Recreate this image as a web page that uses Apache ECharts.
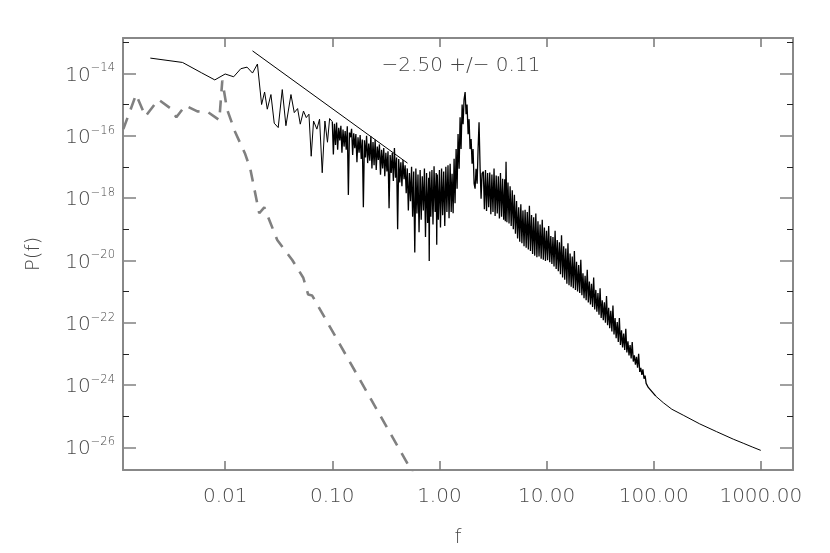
<!DOCTYPE html>
<html><head><meta charset="utf-8">
<script src="https://cdn.jsdelivr.net/npm/echarts@6/dist/echarts.min.js"></script>
<style>html,body{margin:0;padding:0;background:#fff}#c{width:830px;height:553px}</style>
</head><body><div id="c"></div>
<script>
// All values are log10 of the plotted quantities (both axes are logarithmic).
// x: log10(f), y: log10(P(f))
const xTickExp = [-2, -1, 0, 1, 2, 3];
const xTickLabels = ['0.01', '0.10', '1.00', '10.00', '100.00', '1000.00'];
const yMajorExp = [-26, -24, -22, -20, -18, -16, -14];
const yMinorExp = [-25, -23, -21, -19, -17, -15, -13];
const X_MIN = -2.954, X_MAX = 3.301;
const Y_MIN = -26.73, Y_MAX = -12.865;

// black spectrum, lowest frequencies
const spectrumLow = [[-2.699,-13.51],[-2.398,-13.65],[-2.222,-13.98],[-2.097,-14.21],[-2.0,-14.02],[-1.921,-14.11],[-1.854,-13.85],[-1.796,-13.80],[-1.745,-13.99],[-1.699,-13.70]];
// black spectrum 0.02 .. 0.1
const spectrumMid = [[-1.660,-15.00],[-1.632,-14.60],[-1.607,-15.15],[-1.573,-14.68],[-1.542,-15.60],[-1.505,-15.74],[-1.467,-14.52],[-1.433,-15.68],[-1.386,-14.68],[-1.355,-15.26],[-1.324,-15.13],[-1.299,-15.63],[-1.269,-15.21],[-1.243,-15.42],[-1.218,-15.31],[-1.197,-16.66],[-1.175,-15.53],[-1.144,-15.79],[-1.119,-15.47],[-1.094,-17.19],[-1.069,-15.53],[-1.045,-16.21],[-1.025,-15.45]];
// black spectrum 0.1 .. 0.5
const spectrumDecay = [[-1.00,-15.55],[-0.99,-16.60],[-0.98,-15.62],[-0.97,-16.30],[-0.96,-15.58],[-0.95,-16.45],[-0.94,-15.75],[-0.93,-16.15],[-0.92,-15.68],[-0.91,-16.55],[-0.90,-15.80],[-0.89,-16.35],[-0.88,-15.85],[-0.87,-16.45],[-0.86,-15.70],[-0.85,-17.90],[-0.84,-15.90],[-0.83,-16.05],[-0.82,-15.78],[-0.81,-16.62],[-0.80,-15.92],[-0.79,-16.40],[-0.78,-15.95],[-0.77,-16.85],[-0.76,-16.05],[-0.75,-16.55],[-0.74,-15.98],[-0.73,-16.75],[-0.72,-16.12],[-0.71,-18.30],[-0.70,-16.15],[-0.69,-16.70],[-0.68,-16.00],[-0.67,-16.88],[-0.66,-16.25],[-0.65,-16.80],[-0.64,-16.02],[-0.63,-17.05],[-0.62,-16.20],[-0.61,-16.95],[-0.60,-16.12],[-0.59,-17.10],[-0.58,-16.35],[-0.57,-16.78],[-0.56,-16.28],[-0.55,-17.25],[-0.54,-16.45],[-0.53,-17.05],[-0.52,-16.40],[-0.51,-17.30],[-0.50,-16.55],[-0.49,-17.15],[-0.48,-16.50],[-0.47,-18.33],[-0.46,-16.62],[-0.45,-17.20],[-0.44,-16.55],[-0.43,-17.45],[-0.42,-16.40],[-0.41,-17.35],[-0.40,-16.70],[-0.39,-19.00],[-0.38,-16.75],[-0.37,-17.50],[-0.36,-16.85],[-0.35,-17.62],[-0.34,-16.78],[-0.33,-17.40],[-0.32,-16.95],[-0.31,-17.85]];
// black spectrum 0.5 .. 1.3
const spectrumPrePeak = [[-0.30,-17.05],[-0.29,-18.40],[-0.28,-17.20],[-0.27,-18.10],[-0.26,-17.00],[-0.25,-18.60],[-0.24,-17.15],[-0.23,-19.75],[-0.22,-17.05],[-0.21,-18.50],[-0.20,-17.25],[-0.19,-19.10],[-0.18,-17.10],[-0.17,-18.70],[-0.16,-17.30],[-0.15,-18.40],[-0.14,-17.05],[-0.13,-19.25],[-0.12,-17.20],[-0.11,-18.80],[-0.10,-17.35],[-0.095,-20.02],[-0.09,-17.15],[-0.08,-18.60],[-0.07,-17.10],[-0.06,-18.85],[-0.05,-16.98],[-0.04,-18.45],[-0.03,-17.20],[-0.025,-19.50],[-0.02,-17.25],[-0.01,-18.70],[0.00,-17.10],[0.01,-18.95],[0.02,-17.05],[0.03,-18.55],[0.04,-17.15],[0.05,-18.90],[0.06,-17.00],[0.07,-18.45],[0.08,-16.95],[0.09,-18.65],[0.10,-16.90],[0.11,-18.45]];
// black spectrum around the peak
const spectrumPeak = [[0.118,-17.22],[0.128,-18.49],[0.137,-16.74],[0.146,-18.17],[0.156,-16.43],[0.165,-17.70],[0.174,-15.95],[0.184,-17.06],[0.193,-15.41],[0.202,-16.43],[0.212,-15.00],[0.221,-15.63],[0.230,-14.84],[0.240,-14.60],[0.249,-15.31],[0.258,-15.00],[0.268,-15.95],[0.277,-15.47],[0.286,-16.43],[0.296,-16.11],[0.305,-16.90],[0.314,-16.43],[0.324,-17.54],[0.333,-17.70],[0.342,-17.06],[0.352,-17.54],[0.361,-16.43],[0.370,-15.57],[0.380,-17.06],[0.389,-18.02],[0.398,-17.22]];
// black spectrum 2.5 .. 90
const spectrumHigh = [[0.41,-17.15],[0.42,-18.36],[0.43,-17.10],[0.44,-18.42],[0.45,-17.20],[0.46,-18.30],[0.47,-17.18],[0.48,-18.52],[0.49,-17.25],[0.50,-18.45],[0.51,-17.05],[0.52,-18.58],[0.53,-17.28],[0.54,-18.50],[0.55,-17.30],[0.56,-18.66],[0.57,-17.20],[0.58,-18.60],[0.59,-17.38],[0.60,-18.70],[0.61,-17.40],[0.615,-18.75],[0.622,-16.84],[0.63,-18.78],[0.64,-17.50],[0.65,-18.82],[0.66,-17.62],[0.67,-18.90],[0.68,-17.75],[0.69,-19.00],[0.70,-17.90],[0.71,-19.15],[0.72,-18.10],[0.73,-19.30],[0.74,-18.30],[0.75,-19.40],[0.76,-18.20],[0.77,-19.45],[0.78,-18.40],[0.79,-19.55],[0.80,-18.38],[0.81,-19.60],[0.82,-18.45],[0.83,-19.65],[0.84,-18.25],[0.85,-19.70],[0.86,-18.55],[0.87,-19.80],[0.88,-18.62],[0.89,-19.85],[0.90,-18.50],[0.91,-19.90],[0.92,-18.75],[0.93,-19.88],[0.94,-18.85],[0.95,-19.95],[0.96,-18.70],[0.97,-19.98],[0.98,-18.95],[0.99,-20.02],[1.00,-19.05],[1.01,-20.00],[1.02,-18.90],[1.03,-20.06],[1.04,-19.22],[1.05,-20.12],[1.06,-19.25],[1.07,-20.20],[1.08,-19.05],[1.09,-20.28],[1.10,-19.35],[1.11,-20.35],[1.12,-19.42],[1.13,-20.45],[1.14,-19.20],[1.15,-20.55],[1.16,-19.55],[1.17,-20.62],[1.18,-19.62],[1.19,-20.75],[1.20,-19.45],[1.21,-20.80],[1.22,-19.78],[1.23,-20.85],[1.24,-19.88],[1.25,-20.90],[1.26,-19.70],[1.27,-20.95],[1.28,-20.05],[1.29,-21.00],[1.30,-20.15],[1.31,-21.05],[1.32,-19.98],[1.33,-21.12],[1.34,-20.42],[1.35,-21.22],[1.36,-20.50],[1.37,-21.28],[1.38,-20.30],[1.39,-21.35],[1.40,-20.68],[1.41,-21.42],[1.42,-20.75],[1.43,-21.50],[1.44,-20.55],[1.45,-21.58],[1.46,-20.95],[1.47,-21.65],[1.48,-21.05],[1.49,-21.75],[1.50,-20.90],[1.51,-21.85],[1.52,-21.28],[1.53,-21.92],[1.54,-21.35],[1.55,-22.00],[1.56,-21.15],[1.57,-22.08],[1.58,-21.52],[1.59,-22.18],[1.60,-21.62],[1.61,-22.28],[1.62,-21.45],[1.63,-22.38],[1.64,-21.85],[1.65,-22.50],[1.66,-21.98],[1.67,-22.62],[1.68,-21.85],[1.69,-22.72],[1.70,-22.25],[1.71,-22.80],[1.72,-22.35],[1.73,-22.88],[1.74,-22.20],[1.75,-22.96],[1.76,-22.60],[1.77,-23.05],[1.78,-22.72],[1.79,-23.15],[1.80,-22.62],[1.81,-23.25],[1.82,-23.05],[1.83,-23.35],[1.84,-23.10],[1.85,-23.45],[1.86,-23.00],[1.87,-23.58],[1.88,-23.45],[1.89,-23.68],[1.90,-23.50],[1.91,-23.80],[1.92,-23.70],[1.93,-23.95],[1.94,-23.92],[1.95,-24.08],[1.96,-24.12]];
// smooth tail
const spectrumTail = [[2.02,-24.36],[2.09,-24.57],[2.17,-24.78],[2.276,-24.97],[2.43,-25.25],[2.588,-25.50],[2.743,-25.74],[2.836,-25.87],[2.92,-25.99],[3.0,-26.10]];
// power-law fit line (slope -2.50)
const fitLine = [[-1.745,-13.278],[-0.298,-16.88]];
// grey dashed comparison spectrum
const dashedSpectrum = [[-2.951,-15.79],[-2.832,-14.68],[-2.745,-15.38],[-2.624,-14.84],[-2.512,-15.12],[-2.456,-15.41],[-2.372,-15.03],[-2.260,-15.22],[-2.158,-15.25],[-2.055,-15.50],[-2.027,-14.23],[-1.983,-15.15],[-1.906,-15.89],[-1.813,-16.59],[-1.766,-17.06],[-1.682,-18.49],[-1.635,-18.30],[-1.514,-19.35],[-1.374,-19.99],[-1.271,-20.56],[-1.225,-21.10],[-1.188,-21.13],[-0.264,-26.73],[-0.180,-27.24]];
const fitText = '\u22122.50 +/\u2212 0.11';

// thin sparse part and dense noisy part share their joining point
const spectrumSparse = [].concat(spectrumLow, spectrumMid, [spectrumDecay[0]]);
const spectrumDense = [].concat(spectrumDecay, spectrumPrePeak, spectrumPeak, spectrumHigh, [spectrumTail[0]]);

const FONT = 'DejaVu Sans';
const TXT = '#4a4a4a';
const lineCol = '#888';

function yAxisDef(pos, values, len, labels, color, width) {
  return {
    type: 'value', position: pos, min: Y_MIN, max: Y_MAX,
    axisLine: { show: labels !== null, onZero: false, lineStyle: { color: lineCol, width: 2 } },
    axisTick: { show: true, inside: true, length: len, customValues: values, lineStyle: { color: color, width: width } },
    axisLabel: labels ? {
      show: true, customValues: values, margin: 8,
      formatter: v => '{b|10}{s|\u2212' + Math.round(-v) + '}',
      rich: {
        b: { fontSize: 20, fontFamily: FONT, fontWeight: 200, color: TXT, lineHeight: 22, padding: [4, 0, 0, 0] },
        s: { fontSize: 11.5, fontFamily: FONT, fontWeight: 200, color: TXT, verticalAlign: 'top', lineHeight: 12 }
      }
    } : { show: false },
    splitLine: { show: false }
  };
}

const chart = echarts.init(document.getElementById('c'), null, { renderer: 'canvas' });
chart.setOption({
  animation: false,
  backgroundColor: '#fff',
  grid: { left: 123, right: 37, top: 38, bottom: 79 },
  xAxis: [
    {
      type: 'value', position: 'bottom', min: X_MIN, max: X_MAX,
      axisLine: { show: true, onZero: false, lineStyle: { color: lineCol, width: 2 } },
      axisTick: { show: true, inside: true, length: 9, customValues: xTickExp, lineStyle: { color: '#777', width: 1.5 } },
      axisLabel: { show: true, customValues: xTickExp, margin: 17, fontSize: 20, fontFamily: FONT, fontWeight: 200, color: TXT,
        formatter: v => xTickLabels[xTickExp.indexOf(Math.round(v))] },
      splitLine: { show: false },
      name: 'f', nameLocation: 'middle', nameGap: 58,
      nameTextStyle: { fontSize: 20, fontFamily: FONT, fontWeight: 200, color: TXT }
    },
    {
      type: 'value', position: 'top', min: X_MIN, max: X_MAX,
      axisLine: { show: true, onZero: false, lineStyle: { color: lineCol, width: 2 } },
      axisTick: { show: true, inside: true, length: 9, customValues: xTickExp, lineStyle: { color: '#777', width: 1.5 } },
      axisLabel: { show: false }, splitLine: { show: false }
    }
  ],
  yAxis: [
    Object.assign(yAxisDef('left', yMajorExp, 13, true, '#888', 1.6), {
      name: 'P(f)', nameLocation: 'middle', nameGap: 79,
      nameTextStyle: { fontSize: 20, fontFamily: FONT, fontWeight: 200, color: TXT }
    }),
    yAxisDef('left', yMinorExp, 6, null, '#222', 1),
    yAxisDef('right', yMajorExp, 13, false, '#888', 1.6),
    yAxisDef('right', yMinorExp, 6, null, '#222', 1)
  ],
  graphic: [{
    type: 'text', x: 461, y: 56,
    style: { text: fitText, fontSize: 20, fontFamily: FONT, fontWeight: 200, fill: '#444', textAlign: 'center' }
  }],
  series: [
    { type: 'line', name: 'dashed', data: dashedSpectrum, xAxisIndex: 0, yAxisIndex: 0, showSymbol: false, symbol: 'none', z: 2,
      lineStyle: { color: '#808080', width: 2.6, type: [12, 9] }, clip: true },
    { type: 'line', name: 'spectrum low', data: spectrumSparse, xAxisIndex: 0, yAxisIndex: 0, showSymbol: false, symbol: 'none', z: 3,
      lineStyle: { color: '#000', width: 1 }, clip: true },
    { type: 'line', name: 'spectrum dense', data: spectrumDense, xAxisIndex: 0, yAxisIndex: 0, showSymbol: false, symbol: 'none', z: 3,
      lineStyle: { color: '#000', width: 1.3 }, clip: true },
    { type: 'line', name: 'spectrum tail', data: spectrumTail, xAxisIndex: 0, yAxisIndex: 0, showSymbol: false, symbol: 'none', z: 3,
      lineStyle: { color: '#000', width: 1 }, clip: true },
    { type: 'line', name: 'fit', data: fitLine, xAxisIndex: 0, yAxisIndex: 0, showSymbol: false, symbol: 'none', z: 4,
      lineStyle: { color: '#000', width: 1 }, clip: true }
  ]
});
</script></body></html>
